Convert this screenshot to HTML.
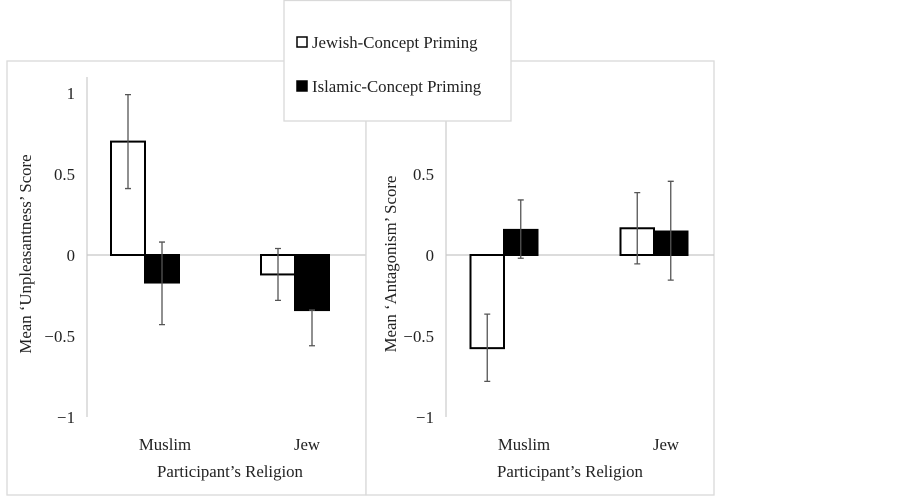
<!DOCTYPE html>
<html><head><meta charset="utf-8"><style>
body{margin:0;background:#fff;}
svg{display:block;font-family:"Liberation Serif",serif;}
</style></head><body>
<svg id="c" width="902" height="497" xmlns="http://www.w3.org/2000/svg"></svg>
<script>
const categories = ["Muslim","Jew"];
const series = ["Jewish-Concept Priming","Islamic-Concept Priming"];
const unplJewish = [0.70,-0.12];
const unplIslamic = [-0.17,-0.34];
const unplJewishErr = [[0.41,0.99],[-0.28,0.04]];
const unplIslamicErr = [[-0.43,0.08],[-0.56,-0.34]];
const antJewish = [-0.575,0.165];
const antIslamic = [0.155,0.145];
const antJewishErr = [[-0.78,-0.365],[-0.055,0.385]];
const antIslamicErr = [[-0.02,0.34],[-0.155,0.455]];
const leftTicks = [1,0.5,0,-0.5,-1];
const leftTickLabels = ["1","0.5","0","\u22120.5","\u22121"];
const rightTicks = [0.5,0,-0.5,-1];
const rightTickLabels = ["0.5","0","\u22120.5","\u22121"];

const svg=document.getElementById('c');
const NS="http://www.w3.org/2000/svg";
const FS=16.8;
function mk(tag,attrs,parent){const e=document.createElementNS(NS,tag);for(const k in attrs)e.setAttribute(k,attrs[k]);(parent||svg).appendChild(e);return e;}
const y=v=>255-162*v;

function panel(opt){
  const g=mk('g',{});
  
  
  const fr=mk('rect',{x:opt.fx,y:61,width:opt.fw,height:434,fill:'#fff',stroke:'#d9d9d9','stroke-width':1.3},g);
  
  
  const ax=mk('line',{x1:opt.ax,x2:opt.ax,y1:opt.axTop,y2:y(-1),stroke:'#d0d0d0','stroke-width':1.3},g);
  
  
  const zl=mk('line',{x1:opt.ax,x2:opt.fx+opt.fw,y1:y(0),y2:y(0),stroke:'#c8c8c8','stroke-width':1.3},g);
  
  
  opt.ticks.forEach((t,i)=>{
    const tx=mk('text',{x:opt.ax-12,y:y(t)+6,'text-anchor':'end','font-size':FS,fill:'#222'},g);
    tx.textContent=opt.tickLabels[i];
    
    
  });
  const bw=opt.bw;
  categories.forEach((c,i)=>{
    const cx=opt.cat0+i*opt.catStep;
    [[opt.a,opt.ae,'#fff','bar-jewish-priming'],[opt.b,opt.be,'#000','bar-islamic-priming']].forEach((s,j)=>{
      const v=s[0][i];const x0=cx-bw+j*bw;
      const r=mk('rect',{x:x0,y:Math.min(y(v),y(0)),width:bw,height:Math.abs(y(v)-y(0)),fill:s[2],stroke:'#000','stroke-width':2},g);
      
      
      const e=s[1][i];const ex=x0+bw/2;
      const el=mk('path',{d:`M${ex},${y(e[0])}V${y(e[1])}M${ex-3},${y(e[0])}h6M${ex-3},${y(e[1])}h6`,stroke:'#555','stroke-width':1.3,fill:'none'},g);
      
      
    });
    const cl=mk('text',{x:cx+(i?12:20),y:450,'text-anchor':'middle','font-size':FS,fill:'#222'},g);
    cl.textContent=c;
    
    
  });
  const xt=mk('text',{x:opt.xtx,y:477,'text-anchor':'middle','font-size':FS,fill:'#222'},g);
  xt.textContent="Participant\u2019s Religion";
  
  
  const yt=mk('text',{x:0,y:0,'text-anchor':'middle','font-size':FS,fill:'#222',transform:`translate(${opt.ytx},${opt.yty}) rotate(-90)`},g);
  yt.textContent=opt.ytitle;
  
  
}
panel({name:'unpleasantness-panel',fx:7,fw:359,ax:87,axTop:77,ticks:leftTicks,tickLabels:leftTickLabels,cat0:145,catStep:150,bw:34,a:unplJewish,b:unplIslamic,ae:unplJewishErr,be:unplIslamicErr,xtx:230,ytx:31,yty:254,ytitle:"Mean \u2018Unpleasantness\u2019 Score"});
panel({name:'antagonism-panel',fx:366,fw:348,ax:446,axTop:77,ticks:rightTicks,tickLabels:rightTickLabels,cat0:504,catStep:150,bw:33.5,a:antJewish,b:antIslamic,ae:antJewishErr,be:antIslamicErr,xtx:570,ytx:396,yty:264,ytitle:"Mean \u2018Antagonism\u2019 Score"});

const lg=mk('g',{});


mk('rect',{x:284,y:0.5,width:227,height:120.5,fill:'#fff',stroke:'#d9d9d9','stroke-width':1.3},lg);
series.forEach((s,i)=>{
  const yy=42+i*44;
  const sq=mk('rect',{x:297,y:yy-5,width:10,height:10,fill:i?'#000':'#fff',stroke:'#000','stroke-width':1.5},lg);
  
  
  const t=mk('text',{x:312,y:yy+6,'font-size':FS,fill:'#222'},lg);
  t.textContent=s;
  
  
});
</script>
</body></html>
